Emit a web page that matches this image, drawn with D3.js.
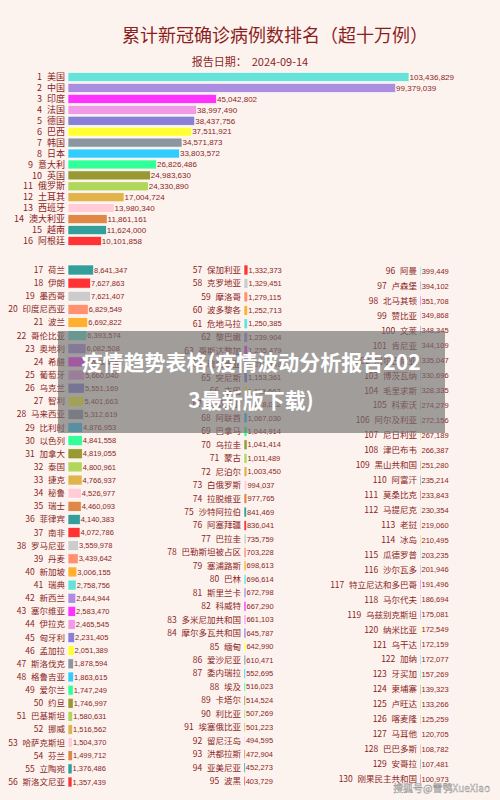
<!DOCTYPE html>
<html><head><meta charset="utf-8">
<script src="https://cdn.jsdelivr.net/npm/d3@7"></script>
<style>body{margin:0;background:#fdf3ee}svg{display:block}</style>
</head><body><svg id="c" width="500" height="800"></svg>
<script>
const topNames=["美国","中国","印度","法国","德国","巴西","韩国","日本","意大利","英国","俄罗斯","土耳其","西班牙","澳大利亚","越南","阿根廷"];
const topValues=[103436829,99379039,45042802,38997490,38437756,37511921,34571873,33803572,26826486,24983630,24330890,17004724,13980340,11861161,11624000,10101858];
const col1Names=["荷兰","伊朗","墨西哥","印度尼西亚","波兰","哥伦比亚","奥地利","希腊","葡萄牙","乌克兰","智利","马来西亚","比利时","以色列","加拿大","泰国","捷克","秘鲁","瑞士","菲律宾","南非","罗马尼亚","丹麦","新加坡","瑞典","新西兰","塞尔维亚","伊拉克","匈牙利","孟加拉","斯洛伐克","格鲁吉亚","爱尔兰","约旦","巴基斯坦","挪威","哈萨克斯坦","芬兰","立陶宛","斯洛文尼亚"];
const col1Values=[8641347,7627863,7621407,6829549,6692822,6393574,6082508,5693466,5660040,5551169,5401663,5312619,4876953,4841558,4819055,4800961,4766937,4526977,4460093,4140383,4072786,3559978,3439642,3006155,2758756,2644944,2583470,2465545,2231405,2051389,1878594,1863615,1747249,1746997,1580631,1516562,1504370,1499712,1376486,1357439];
const col2Names=["保加利亚","克罗地亚","摩洛哥","波多黎各","危地马拉","黎巴嫩","哥斯达黎加","玻利维亚","突尼斯","古巴","厄瓜多尔","阿联酋","巴拿马","乌拉圭","蒙古","尼泊尔","白俄罗斯","拉脱维亚","沙特阿拉伯","阿塞拜疆","巴拉圭","巴勒斯坦被占区","塞浦路斯","巴林","斯里兰卡","科威特","多米尼加共和国","摩尔多瓦共和国","缅甸","爱沙尼亚","委内瑞拉","埃及","卡塔尔","利比亚","埃塞俄比亚","留尼汪岛","洪都拉斯","亚美尼亚","波黑"];
const col2Values=[1332373,1329451,1279115,1252713,1250385,1239904,1235479,1212149,1153361,1113662,1078012,1067030,1044914,1041414,1011489,1003450,994037,977765,841469,836041,735759,703228,698613,696614,672798,667290,661103,645787,642990,610471,552695,516023,514524,507269,501223,494595,472904,452273,403729];
const col3Names=["阿曼","卢森堡","北马其顿","赞比亚","文莱","肯尼亚","阿尔巴尼亚","博茨瓦纳","毛里求斯","科索沃","阿尔及利亚","尼日利亚","津巴布韦","黑山共和国","阿富汗","莫桑比克","马提尼克","老挝","冰岛","瓜德罗普","沙尔瓦多","特立尼达和多巴哥","马尔代夫","乌兹别克斯坦","纳米比亚","乌干达","加纳","牙买加","柬埔寨","卢旺达","喀麦隆","马耳他","巴巴多斯","安哥拉","刚果民主共和国"];
const col3Values=[399449,394102,351708,349868,348345,344109,335047,330696,328335,274279,272156,267189,266387,251280,235214,233843,230354,219060,210495,203235,201946,191496,186694,175081,172549,172159,172077,157269,139323,133266,125259,120705,108782,107481,100973];
const palette=["#66e3d8","#ab8ee0","#ff33ff","#f09ae8","#8a7fd6","#ffff33","#8c96a0","#33ccff","#33ff99","#999933","#b0d65a","#e0b44a","#ffccd8","#e08848","#339e9a","#ff3333","#cccccc","#ff9070","#ffb030"];
const TXT="#8b1f1f", FONT="'Noto Sans CJK SC', sans-serif";
const svg=d3.select("#c");
svg.append("rect").attr("width",500).attr("height",800).attr("fill","#fdf3ee");
svg.append("text").attr("x",275).attr("y",42).attr("text-anchor","middle").attr("font-size",18).attr("fill",TXT).attr("font-family",FONT).text("累计新冠确诊病例数排名（超十万例）");
svg.append("text").attr("x",250).attr("y",66).attr("text-anchor","middle").attr("font-size",11).attr("fill",TXT).attr("font-family",FONT).attr("xml:space","preserve").text("报告日期：  2024-09-14");

function section(ranks,names,values,x0,y0,y1,scale,offset,labFs,valFs,bh){
  const y=d3.scalePoint().domain(ranks).range([y0,y1]);
  const g=svg.append("g");
  ranks.forEach((r,i)=>{
    const yy=y(r), w=Math.max(scale(values[i]),1);
    g.append("rect").attr("x",x0).attr("y",yy-bh/2).attr("width",w).attr("height",bh)
      .attr("fill",palette[(i+offset)%19]).attr("stroke","#ffffff").attr("stroke-width",0.6);
    const t=g.append("text").attr("x",x0-3).attr("y",yy).attr("dy","0.35em").attr("text-anchor","end")
      .attr("font-size",labFs).attr("fill",TXT).attr("font-family",FONT);
    t.append("tspan").text(r);
    t.append("tspan").attr("dx",labFs*0.55).text(names[i]);
    g.append("text").attr("x",x0+w+0.5).attr("y",yy).attr("dy","0.35em")
      .attr("font-size",valFs).attr("fill",TXT).attr("font-family","Liberation Sans, Arial, sans-serif").text(d3.format(",")(values[i]));
  });
}
const sTop=d3.scaleLinear().domain([0,103436829]).range([0,341]);
section(d3.range(1,17),topNames,topValues,68,77,241,sTop,0,9,8,9);
const sCol=d3.scaleLinear().domain([0,8641347]).range([0,25.5]);
section(d3.range(17,57),col1Names,col1Values,68,270,782,sCol,14,8.5,7.5,10);
section(d3.range(57,96),col2Names,col2Values,244,270,781,sCol,15,8.5,7.5,10);
section(d3.range(96,131),col3Names,col3Values,420,271,779,sCol,0,8.5,7.5,10);

svg.append("rect").attr("x",58).attr("y",331).attr("width",387).attr("height",102).attr("fill","#6e6e6e").attr("opacity",0.65);
svg.append("text").attr("x",251).attr("y",370).attr("text-anchor","middle").attr("font-size",21).attr("font-weight","bold").attr("fill","#fff").attr("font-family",FONT).text("疫情趋势表格(疫情波动分析报告202");
svg.append("text").attr("x",251).attr("y",408).attr("text-anchor","middle").attr("font-size",21).attr("font-weight","bold").attr("fill","#fff").attr("font-family",FONT).text("3最新版下载)");
svg.append("text").attr("x",490).attr("y",792).attr("text-anchor","end").attr("font-size",10).attr("fill","#ffffff").attr("stroke","#888").attr("stroke-width",0.4).attr("font-family",FONT).text("搜狐号@雪鸮XueXiao");
</script></body></html>
